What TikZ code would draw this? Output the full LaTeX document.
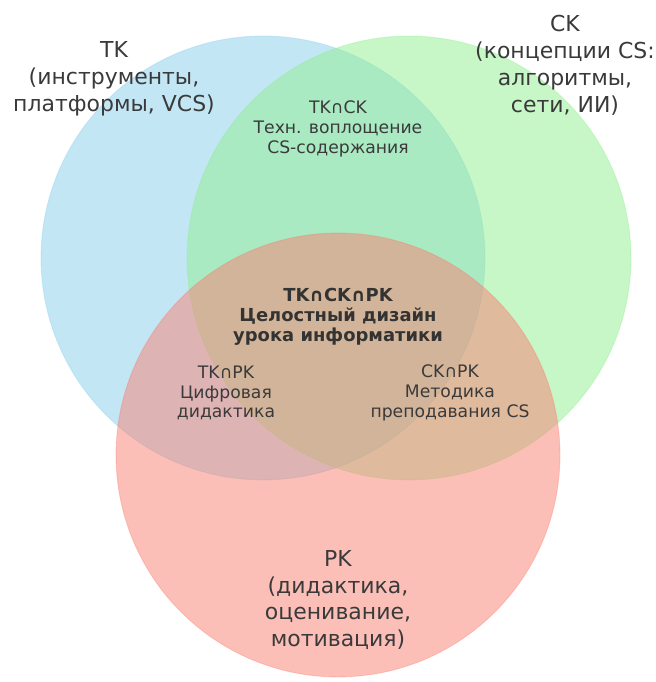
\documentclass[tikz,border=0pt]{standalone}
\usepackage{fontspec}
\setmainfont{DejaVu Sans}

\definecolor{tkblue}{HTML}{87CEEB}
\definecolor{ckgreen}{HTML}{90EE90}
\definecolor{pkred}{HTML}{FA8072}
\definecolor{labelgray}{HTML}{3A3A3A}

\begin{document}
\begin{tikzpicture}[
    x=0.02cm, y=-0.02cm,
    kset/.style={fill=#1, fill opacity=0.5, draw=#1, draw opacity=0.2, line width=0.5pt}, % круги множеств
    biglabel/.style={align=center, text=labelgray, inner sep=0pt, font=\fontsize{12.5}{15.3}\selectfont},
    smalllabel/.style={align=center, text=labelgray, inner sep=0pt, font=\fontsize{9.8}{11.3}\selectfont},
    corelabel/.style={smalllabel, text=black!80, font=\bfseries\fontsize{10.2}{11.5}\selectfont}
]
\useasboundingbox (0,0) rectangle (655,682);

% центры кругов
\coordinate (tk) at (263,258);
\coordinate (ck) at (409,258);
\coordinate (pk) at (338,455);

% круги TK, CK, PK
\foreach \c/\col in {tk/tkblue, ck/ckgreen, pk/pkred} {
    \fill[kset=\col] (\c) circle[radius=4.44cm];
    \draw[kset=\col, fill=none] (\c) circle[radius=4.44cm];
}

% подписи множеств
\node[biglabel] (tklabel) at (114,79) {TK\\(инструменты,\\платформы, VCS)};
\node[biglabel] (cklabel) at (565,65) {CK\\(концепции CS:\\алгоритмы,\\сети, ИИ)};
\node[biglabel] (pklabel) at (338,600) {PK\\(дидактика,\\оценивание,\\мотивация)};

% пересечения
\node[smalllabel] (tkck) at (338,129) {TK∩CK\\Техн. воплощение\\CS-содержания};
\node[smalllabel] (tkpk) at (226,393) {TK∩PK\\Цифровая\\дидактика};
\node[smalllabel] (ckpk) at (450,393) {CK∩PK\\Методика\\преподавания CS};
\node[corelabel] (core) at (338,317) {TK∩CK∩PK\\Целостный дизайн\\урока информатики};

\end{tikzpicture}
\end{document}
